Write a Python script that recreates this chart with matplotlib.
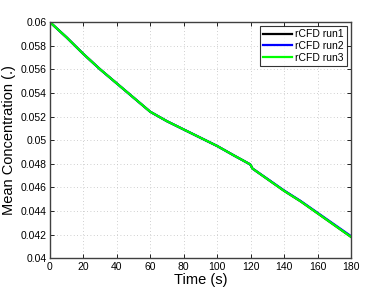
import matplotlib
matplotlib.use("Agg")
import matplotlib.pyplot as plt
import numpy as np

plt.rcParams["font.family"] = ["Liberation Sans", "DejaVu Sans"]

time = [0, 10, 20, 30, 40, 50, 60, 70, 80, 90, 100, 110, 119, 120, 121, 130, 140, 150, 160, 170, 180]
run1 = [0.0600, 0.0587, 0.0573, 0.0560, 0.0548, 0.0536, 0.0524, 0.0516, 0.0509, 0.0502,
        0.0495, 0.0487, 0.0480, 0.0479, 0.0476, 0.0467, 0.0457, 0.0448, 0.0438, 0.0428, 0.0418]
run2 = [0.0600, 0.0587, 0.0573, 0.0560, 0.0548, 0.0536, 0.0524, 0.0516, 0.0509, 0.0502,
        0.0495, 0.0487, 0.0480, 0.0479, 0.0476, 0.04672, 0.04573, 0.04483, 0.04384, 0.04285, 0.04186]
run3 = run1

fig = plt.figure(figsize=(3.87, 2.91), dpi=100)
ax = fig.add_axes([0.129, 0.113, 0.778, 0.811])

ax.plot(time, run1, color="black", lw=1.6, label="rCFD run1")
ax.plot(time, run2, color="#0000ff", lw=1.6, label="rCFD run2")
ax.plot(time, run3, color="#00ff00", lw=1.6, label="rCFD run3")

ax.set_xlim(0, 180)
ax.set_ylim(0.04, 0.06)
ax.set_xticks(np.arange(0, 181, 20))
ax.set_yticks([0.04, 0.042, 0.044, 0.046, 0.048, 0.05, 0.052, 0.054, 0.056, 0.058, 0.06])
ax.set_yticklabels(["0.04", "0.042", "0.044", "0.046", "0.048", "0.05", "0.052", "0.054", "0.056", "0.058", "0.06"])
ax.tick_params(direction="in", top=True, right=True, labelsize=7.5, length=3, width=0.6, pad=2.5)
ax.grid(True, linestyle=(0, (1, 3)), color="#c0c0c0", lw=0.6)
for s in ax.spines.values():
    s.set_linewidth(1.0)
    s.set_color("#404040")

ax.set_xlabel("Time (s)", fontsize=10.5, labelpad=1)
ax.set_ylabel("Mean Concentration (.)", fontsize=10.5, labelpad=3)

leg = ax.legend(loc="upper right", fontsize=7.5, frameon=True, fancybox=False,
                borderaxespad=0.4, handlelength=2.8, handletextpad=0.3,
                labelspacing=0.15, borderpad=0.3)
leg.get_frame().set_edgecolor("black")
leg.get_frame().set_linewidth(0.8)

fig.savefig("out.png", dpi=100)
